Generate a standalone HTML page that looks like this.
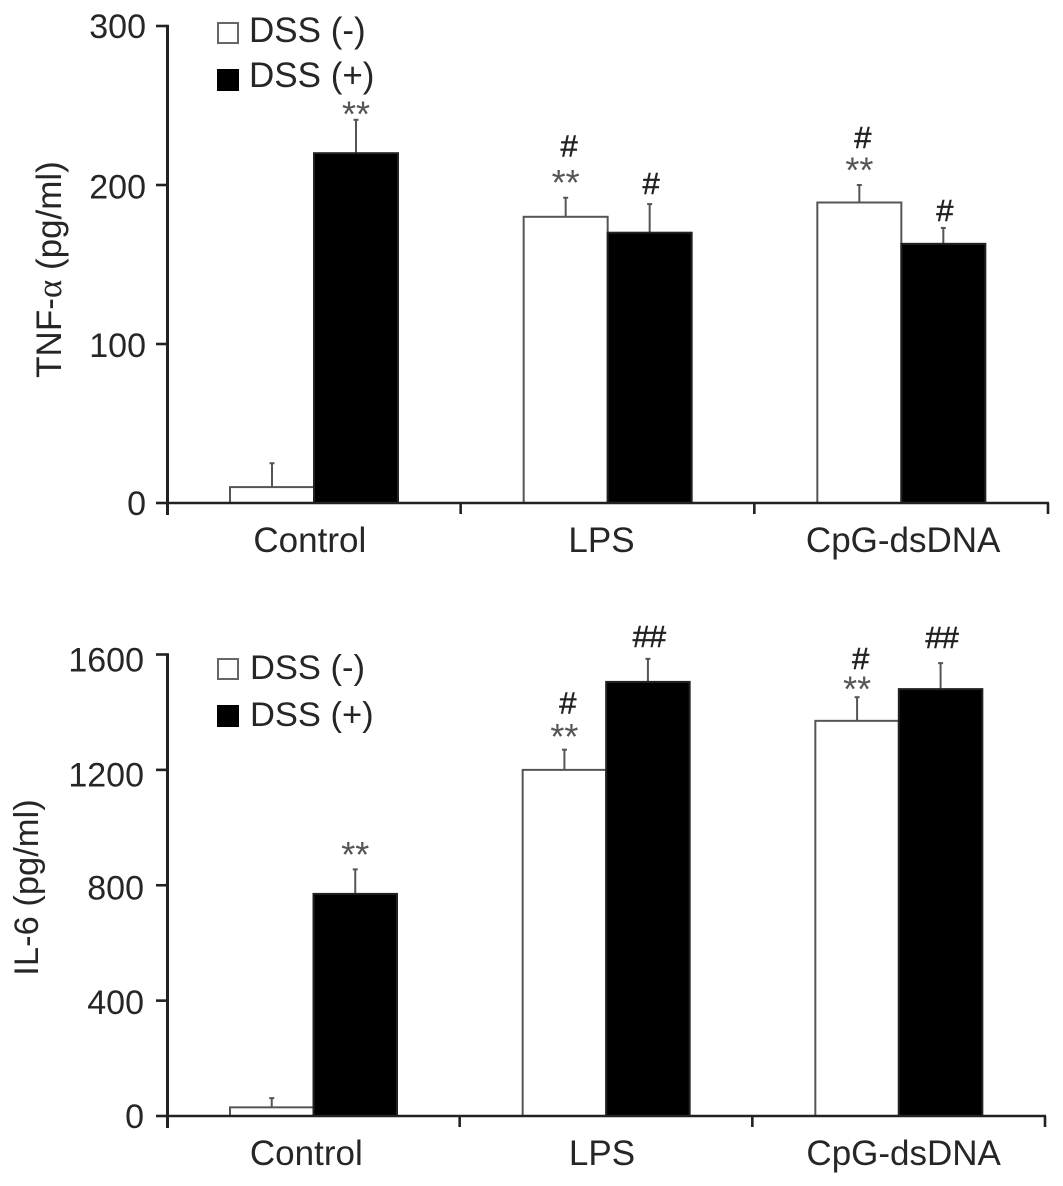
<!DOCTYPE html>
<html>
<head>
<meta charset="utf-8">
<style>
html,body{margin:0;padding:0;background:#fff;}
svg{display:block;}
text{font-family:"Liberation Sans",Arial,sans-serif;fill:#262626;}
.star{fill:#555;}
.hash{fill:#222;stroke:#222;stroke-width:0.5;letter-spacing:-1px;}
.serif{font-family:"Liberation Serif",serif;}
</style>
</head>
<body>
<svg id="fig" width="1063" height="1186" viewBox="0 0 1063 1186"></svg>
<script>
const categories = ["Control", "LPS", "CpG-dsDNA"];
const seriesNames = ["DSS (-)", "DSS (+)"];

const tnfMinus = [10, 180, 189];
const tnfPlus = [220, 170, 163];
const tnfMinusErr = [15, 12, 11];
const tnfPlusErr = [21, 18, 10];
const tnfTicks = [0, 100, 200, 300];
const tnfMinusMarks = [[], ["**", "#"], ["**", "#"]];
const tnfPlusMarks = [["**"], ["#"], ["#"]];

const il6Minus = [30, 1200, 1370];
const il6Plus = [770, 1505, 1480];
const il6MinusErr = [32, 70, 82];
const il6PlusErr = [85, 80, 90];
const il6Ticks = [0, 400, 800, 1200, 1600];
const il6MinusMarks = [[], ["**", "#"], ["**", "#"]];
const il6PlusMarks = [["**"], ["##"], ["##"]];

const NS = "http://www.w3.org/2000/svg";
const svg = document.getElementById("fig");

function add(tag, attrs, parent, text) {
  const el = document.createElementNS(NS, tag);
  for (const k in attrs) el.setAttribute(k, attrs[k]);
  if (text !== undefined) el.textContent = text;
  (parent || svg).appendChild(el);
  return el;
}

function drawPanel(p) {
  const g = add("g", {});
  
  

  const yMax = p.ticks[p.ticks.length - 1];
  const yScale = v => p.y0 - (v / yMax) * (p.y0 - p.yTop);
  const groupW = (p.xEnd - p.x0) / categories.length;
  const barX = (i, s) => p.x0 + i * groupW + p.barOffset + s * p.barW;

  const series = [
    { vals: p.minus, errs: p.minusErr, marks: p.minusMarks, gaps: p.minusGaps, fill: "#fff", hashShift: 3 },
    { vals: p.plus, errs: p.plusErr, marks: p.plusMarks, gaps: p.plusGaps, fill: "#000", hashShift: 1 }
  ];
  series.forEach((s, si) => {
    s.vals.forEach((v, i) => {
      const x = barX(i, si);
      const cx = x + p.barW / 2;
      const top = yScale(v);
      const errTop = yScale(v + s.errs[i]);

      const err = add("line", { x1: cx, x2: cx, y1: top, y2: errTop, stroke: "#555", "stroke-width": 2 }, g);
      
      
      const cap = add("line", { x1: cx - 2.5, x2: cx + 2.5, y1: errTop, y2: errTop, stroke: "#555", "stroke-width": 2 }, g);
      
      

      const bar = add("rect", { x: x, y: top, width: p.barW, height: p.y0 - top, fill: s.fill, stroke: si ? "#222" : "#555", "stroke-width": 2 }, g);
      
      

      s.marks[i].forEach((m, mi) => {
        const center = errTop - s.gaps[i][mi];
        if (m.indexOf("*") === 0) {
          const star = add("text", { x: cx, y: center + 16.5, "font-size": 36, "text-anchor": "middle", class: "star" }, g, m);
          
          
        } else {
          const hash = add("text", { x: cx + s.hashShift, y: center + 11, "font-size": 31, "text-anchor": "middle", class: "hash" }, g, m);
          
          
        }
      });
    });
  });

  const yAxis = add("line", { x1: p.x0 + 0.5, x2: p.x0 + 0.5, y1: yScale(yMax) - 1.3, y2: p.y0 + 12, stroke: "#222", "stroke-width": 3 }, g);
  
  
  p.ticks.forEach((t, ti) => {
    const tk = add("line", { x1: p.x0 - 11, x2: p.x0, y1: yScale(t), y2: yScale(t), stroke: "#222", "stroke-width": 2.6 }, g);
    
    
    const lb = add("text", { x: p.x0 - p.labelGap, y: yScale(t) + p.labelNudge[ti] + p.tickFont * 0.36, "font-size": p.tickFont, "text-anchor": "end" }, g, String(t));
    
    
  });

  const xAxis = add("line", { x1: p.x0 - 1, x2: p.xEnd + 1, y1: p.y0, y2: p.y0, stroke: "#222", "stroke-width": 2.6 }, g);
  
  
  for (let i = 1; i <= categories.length; i++) {
    const x = p.x0 + i * groupW;
    const tk = add("line", { x1: x, x2: x, y1: p.y0, y2: p.y0 + 11, stroke: "#222", "stroke-width": 2.6 }, g);
    
    
  }
  categories.forEach((c, i) => {
    const lb = add("text", { x: p.x0 + (i + 0.5) * groupW + p.catShift[i], y: p.y0 + p.catDy, "font-size": 35, "text-anchor": "middle" }, g, c);
    
    
  });

  const title = add("text", { x: 0, y: 0, "font-size": p.titleFont, "text-anchor": "middle", transform: "translate(" + p.titleX + "," + p.titleY + ") rotate(-90)" }, g);
  
  
  p.title.forEach(part => {
    add("tspan", part.serif ? { class: "serif" } : {}, title, part.text);
  });

  seriesNames.forEach((n, i) => {
    const ly = p.legendY + i * p.legendGap;
    const sw = add("rect", { x: p.legendX, y: ly - 10, width: 20, height: 20, fill: i ? "#000" : "#fff", stroke: i ? "#000" : "#666", "stroke-width": 2 }, g);
    
    
    const tx = add("text", { x: p.legendTextX, y: ly + p.legendDy[i], "font-size": p.legendFont }, g, n);
    
    
  });
}

drawPanel({
  key: "tnf",
  title: [{ text: "TNF-" }, { text: "\u03b1", serif: true }, { text: " (pg/ml)" }],
  ticks: tnfTicks,
  minus: tnfMinus, plus: tnfPlus, minusErr: tnfMinusErr, plusErr: tnfPlusErr,
  minusMarks: tnfMinusMarks, plusMarks: tnfPlusMarks,
  minusGaps: [[], [19, 52], [19, 48]], plusGaps: [[10], [21], [18]],
  x0: 167, xEnd: 1048, y0: 503, yTop: 26, barOffset: 63, barW: 84,
  tickFont: 34, labelGap: 21, labelNudge: [0, 1, 1.5, 0], catDy: 49, catShift: [-4, -6, 2],
  titleX: 61, titleY: 269.5, titleFont: 35,
  legendX: 218, legendY: 33, legendGap: 47, legendTextX: 249, legendDy: [9, 7], legendFont: 35
});
drawPanel({
  key: "il6",
  title: [{ text: "IL-6 (pg/ml)" }],
  ticks: il6Ticks,
  minus: il6Minus, plus: il6Plus, minusErr: il6MinusErr, plusErr: il6PlusErr,
  minusMarks: il6MinusMarks, plusMarks: il6PlusMarks,
  minusGaps: [[], [17, 47], [12, 39]], plusGaps: [[19], [23], [26]],
  x0: 167, xEnd: 1045, y0: 1116, yTop: 654.5, barOffset: 63, barW: 83.5,
  tickFont: 34, labelGap: 23, labelNudge: [0, 1, 2, 4.5, 5], catDy: 49, catShift: [-7, -4, 5],
  titleX: 38, titleY: 887.5, titleFont: 34.5,
  legendX: 218, legendY: 669, legendGap: 47, legendTextX: 250, legendDy: [10, 10], legendFont: 34.5
});
</script>
</body>
</html>
